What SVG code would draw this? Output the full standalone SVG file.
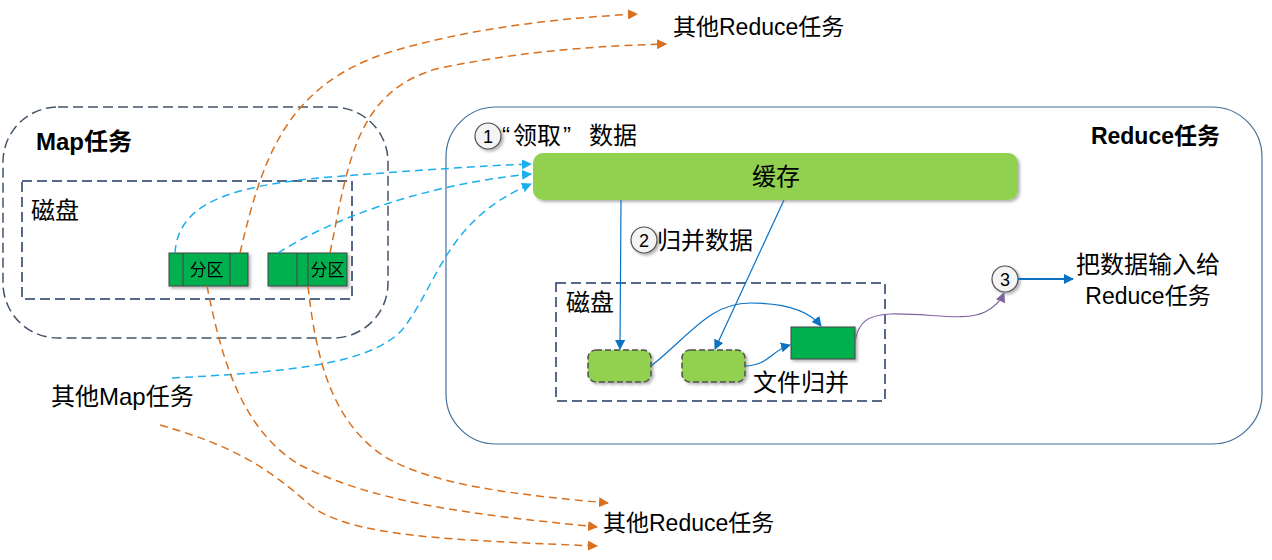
<svg xmlns="http://www.w3.org/2000/svg" width="1272" height="560" viewBox="0 0 1272 560">
<style>
text{font-family:"Liberation Sans","Noto Sans CJK SC",sans-serif;fill:#000}
.t22{font-size:23px}
.t24{font-size:24px}
.b{font-weight:bold}
.or{fill:none;stroke:#D9701E;stroke-width:1.5;stroke-dasharray:8,5}
.cy{fill:none;stroke:#1AAFEF;stroke-width:1.5;stroke-dasharray:8,5}
.bl{fill:none;stroke:#0B72C4;stroke-width:1.2}
.dashbox{fill:none;stroke:#1F3864;stroke-width:1.5;stroke-dasharray:10,5}
.part{fill:#00B050;stroke:#404040;stroke-width:1}
.circ{fill:#F4F4F4;stroke:#505050;stroke-width:1.2}
.num{font-size:18px;text-anchor:middle}
</style>
<defs>
<marker id="ao" markerWidth="10" markerHeight="10" refX="9" refY="5" orient="auto" markerUnits="userSpaceOnUse"><path d="M0,0 L10,5 L0,10 Z" fill="#D9701E"/></marker>
<marker id="ac" markerWidth="10" markerHeight="10" refX="9" refY="5" orient="auto" markerUnits="userSpaceOnUse"><path d="M0,0 L10,5 L0,10 Z" fill="#1AAFEF"/></marker>
<marker id="ab" markerWidth="10" markerHeight="10" refX="9" refY="5" orient="auto" markerUnits="userSpaceOnUse"><path d="M0,0 L10,5 L0,10 Z" fill="#0B72C4"/></marker>
<marker id="ap" markerWidth="10" markerHeight="10" refX="9" refY="5" orient="auto" markerUnits="userSpaceOnUse"><path d="M0,0 L10,5 L0,10 Z" fill="#8064A2"/></marker>
<filter id="sh" x="-20%" y="-20%" width="150%" height="150%"><feDropShadow dx="2" dy="2" stdDeviation="1.5" flood-color="#000" flood-opacity="0.3"/></filter>
</defs>

<g id="map-task">
<rect x="3" y="107" width="385" height="231" rx="55" fill="none" stroke="#44546A" stroke-width="1.5" stroke-dasharray="10,5"/>
<text x="36" y="150" class="t24 b">Map任务</text>
</g>
<g id="map-disk">
<rect x="22" y="181" width="330" height="118" class="dashbox"/>
<text x="31" y="219" class="t24">磁盘</text>
</g>
<g id="partition1" filter="url(#sh)">
<rect x="169" y="253" width="79" height="33" class="part"/>
<line x1="183" y1="253" x2="183" y2="286" stroke="#404040"/>
<line x1="230" y1="253" x2="230" y2="286" stroke="#404040"/>
<text x="206.500" y="276" font-size="17" text-anchor="middle">分区</text>
</g>
<g id="partition2" filter="url(#sh)">
<rect x="268" y="253" width="79" height="33" class="part"/>
<line x1="297" y1="253" x2="297" y2="286" stroke="#404040"/>
<line x1="308" y1="253" x2="308" y2="286" stroke="#404040"/>
<text x="327.500" y="276" font-size="17" text-anchor="middle">分区</text>
</g>
<g id="other-map">
<text x="51" y="405" class="t24">其他Map任务</text>
</g>
<g id="other-reduce-top">
<text x="673" y="35" class="t22">其他Reduce任务</text>
</g>
<g id="other-reduce-bottom">
<text x="603" y="531" class="t22">其他Reduce任务</text>
</g>

<g id="reduce-task">
<rect x="446" y="107" width="816" height="337" rx="50" fill="none" stroke="#41719C" stroke-width="1.2"/>
<text x="1220" y="144" class="t22 b" text-anchor="end">Reduce任务</text>
</g>
<g id="step1">
<circle cx="488" cy="136" r="13" class="circ" filter="url(#sh)"/>
<text x="488" y="142.500" class="num">1</text>
<text x="502" y="144" class="t24">“</text>
<text x="513" y="144" class="t24">领取</text>
<text x="563" y="144" class="t24">”</text>
<text x="589" y="144" class="t24">数据</text>
</g>
<g id="cache">
<rect x="533" y="153" width="485" height="47" rx="10" fill="#92D050" filter="url(#sh)"/>
<text x="776" y="185" class="t24" text-anchor="middle">缓存</text>
</g>
<g id="step2">
<circle cx="644" cy="240" r="13" class="circ" filter="url(#sh)"/>
<text x="644" y="246.500" class="num">2</text>
<text x="657" y="249" class="t24">归并数据</text>
</g>
<g id="reduce-disk">
<rect x="556" y="283" width="329" height="118" class="dashbox"/>
<text x="566" y="311" class="t24">磁盘</text>
</g>
<g id="spill1">
<rect x="588" y="350" width="63" height="32" rx="8" fill="#92D050" stroke="#505050" stroke-width="1.5" stroke-dasharray="6,3" filter="url(#sh)"/>
</g>
<g id="spill2">
<rect x="682" y="350" width="63" height="32" rx="8" fill="#92D050" stroke="#505050" stroke-width="1.5" stroke-dasharray="6,3" filter="url(#sh)"/>
</g>
<g id="merged">
<rect x="791" y="327" width="64" height="32" fill="#00B050" stroke="#404040" stroke-width="1" filter="url(#sh)"/>
<text x="753" y="391" class="t24">文件归并</text>
</g>
<g id="step3">
<circle cx="1005" cy="279" r="13" class="circ" filter="url(#sh)"/>
<text x="1005" y="285.500" class="num">3</text>
</g>
<g id="output">
<text x="1148" y="273" class="t24" text-anchor="middle">把数据输入给</text>
<text x="1148" y="304" class="t22" text-anchor="middle">Reduce任务</text>
</g>

<g id="connectors">
<path class="cy" d="M175,253 C178,205 225,186 330,177 C420,170 480,166 531,164" marker-end="url(#ac)"/>
<path class="cy" d="M278,253 C330,220 420,185 531,174" marker-end="url(#ac)"/>
<path class="cy" d="M172,378 C290,372 370,364 402,330 C438,285 445,220 531,184" marker-end="url(#ac)"/>
<path class="or" d="M240,253 C262,160 285,85 390,52 C470,28 560,18 637,14" marker-end="url(#ao)"/>
<path class="or" d="M330,253 C348,165 355,90 440,68 C530,50 600,46 666,44" marker-end="url(#ao)"/>
<path class="or" d="M207,286 C220,350 238,428 300,465 C380,505 480,515 597,527" marker-end="url(#ao)"/>
<path class="or" d="M308,286 C316,360 332,420 382,455 C432,486 520,495 608,503" marker-end="url(#ao)"/>
<path class="or" d="M160,425 C230,445 265,465 310,505 C350,537 450,540 597,546" marker-end="url(#ao)"/>
<path class="bl" d="M621,200 L620,349" marker-end="url(#ab)"/>
<path class="bl" d="M784,200 L715,349" marker-end="url(#ab)"/>
<path class="bl" d="M651,366 C690,335 710,303 750,303 C790,303 810,312 821,326" marker-end="url(#ab)"/>
<path class="bl" d="M745,366 C768,366 772,350 790,345" marker-end="url(#ab)"/>
<path fill="none" stroke="#8064A2" stroke-width="1.2" d="M855,342 C858,322 868,315 890,314 C930,313 965,322 985,312 C995,307 1001,300 1004,293" marker-end="url(#ap)"/>
<path fill="none" stroke="#0B72C4" stroke-width="2" d="M1018,279 L1073,279" marker-end="url(#ab)"/>
</g>
</svg>
